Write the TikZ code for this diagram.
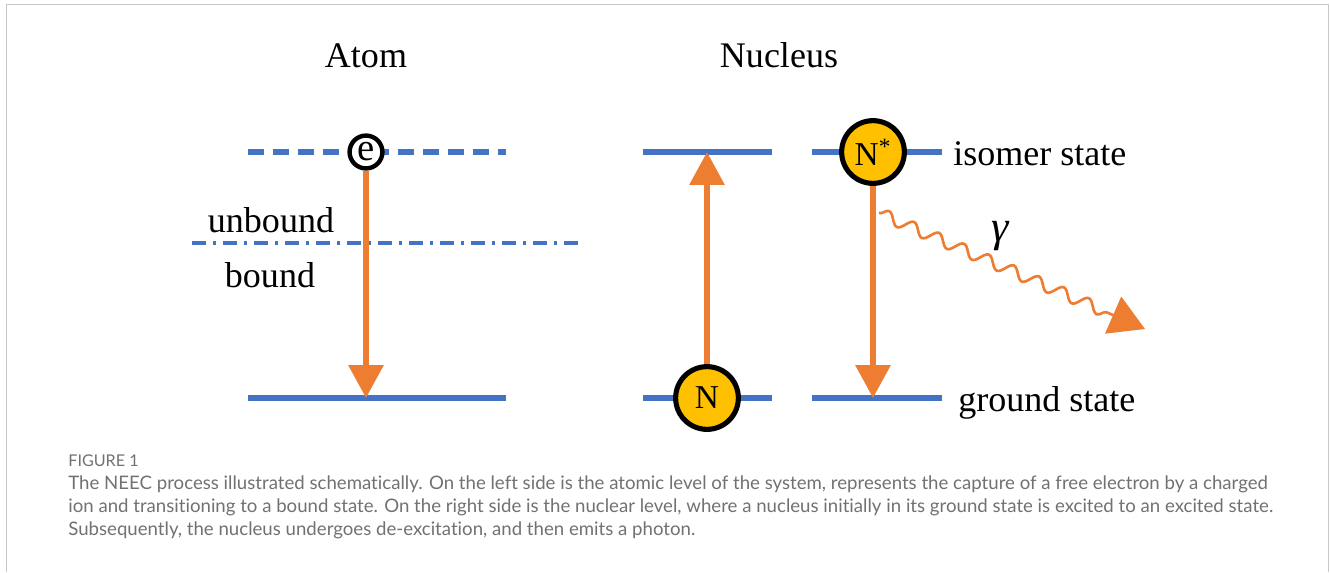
\documentclass[tikz,border=0pt]{standalone}
\usepackage{fontspec}
\setmainfont{Liberation Serif}
\newfontfamily\capfont[Ligatures=NoCommon]{Lato}
\usetikzlibrary{arrows.meta,decorations.pathmorphing}
\definecolor{lvlblue}{HTML}{4472C4}
\definecolor{trorange}{HTML}{ED7D31}
\definecolor{nucyellow}{HTML}{FFC000}
\definecolor{capgray}{HTML}{707173}

\begin{document}
\begin{tikzpicture}[x=0.02cm, y=-0.02cm, font=\fontsize{20.5}{24}\selectfont,
  lvl/.style={draw=lvlblue, line width=3.1pt},
  tr/.style={draw=trorange, line width=3.5pt, -{Triangle[length=18.7pt, width=19.3pt]}},
  nuc/.style={circle, draw, line width=2.9pt, fill=nucyellow, minimum size=35.7pt, inner sep=0pt, font=\fontsize{19}{22}\selectfont},
  lbl/.style={anchor=base},
  captxt/.style={anchor=base west, inner sep=0pt, font=\capfont\fontsize{10.6}{13}\selectfont, text=capgray}]
  \useasboundingbox (0,0) rectangle (1330,572);
  \draw[black!22, line width=0.6pt] (6.5,572) -- (6.5,4.5) -- (1328.5,4.5) -- (1328.5,572);
  % titles
  \node[lbl] (atom) at (366,67) {Atom};
  \node[lbl] (nucl) at (779,67) {Nucleus};
  % atomic levels
  \coordinate (fa) at (248,152); \coordinate (fb) at (506,152);
  \coordinate (ba) at (248,398); \coordinate (bb) at (506,398);
  \coordinate (ka) at (192,243); \coordinate (kb) at (578,243);
  \coordinate (etip) at (366,398);
  \draw[lvl, dash pattern=on 0.33cm off 0.17cm] (fa) -- (fb);
  \draw[lvl] (ba) -- (bb);
  \draw[draw=lvlblue, line width=2pt, dash pattern=on 0.28cm off 0.14cm on 0.06cm off 0.14cm] (ka) -- (kb);
  \node[lbl] (unb) at (271,232) {unbound};
  \node[lbl] (bnd) at (270,287) {bound};
  \node[circle, draw, fill=white, line width=2.5pt, minimum size=18.7pt, inner sep=0pt,
    font=\fontsize{22}{24}\selectfont] (e) at (366,152) {e};
  \draw[tr] (e) -- (etip);
  % nuclear levels, excitation
  \coordinate (xa) at (643,152); \coordinate (xb) at (772,152);
  \coordinate (ga) at (643,398); \coordinate (gb) at (772,398);
  \coordinate (xtip) at (707,152);
  \draw[lvl] (xa) -- (xb);
  \draw[lvl] (ga) -- (gb);
  \node[nuc] (n) at (707,398) {N};
  \draw[tr] (n) -- (xtip);
  % nuclear levels, decay
  \coordinate (ia) at (812,152); \coordinate (ib) at (942,152);
  \coordinate (oa) at (812,398); \coordinate (ob) at (942,398);
  \coordinate (otip) at (873,398);
  \draw[lvl] (ia) -- (ib);
  \draw[lvl] (oa) -- (ob);
  \node[nuc] (ns) at (873,152) {N\textsuperscript{*}};
  \draw[tr] (ns) -- (otip);
  \node[anchor=base west, inner sep=0pt] (iso) at (953,165) {isomer state};
  \node[anchor=base west, inner sep=0pt] (gnd) at (958,411) {ground state};
  % photon
  \coordinate (ps) at (879,213); \coordinate (pe) at (1145,329);
  \draw[trorange, line width=1.5pt, decorate,
    decoration={snake, amplitude=3.3pt, segment length=15.5pt, post length=21pt},
    -{Triangle[length=19.8pt, width=22.7pt]}] (ps) -- (pe);
  \node[font=\fontsize{25}{28}\selectfont\itshape] (gam) at (1000,236) {γ};
  % caption
  \node[captxt, font=\capfont\fontsize{9.2}{11}\selectfont] (fig) at (68,466) {FIGURE 1};
  \node[captxt] (c1) at (68,489) {The NEEC process illustrated schematically. On the left side is the atomic level of the system, represents the capture of a free electron by a charged};
  \node[captxt] (c2) at (68,512) {ion and transitioning to a bound state. On the right side is the nuclear level, where a nucleus initially in its ground state is excited to an excited state.};
  \node[captxt] (c3) at (68,535) {Subsequently, the nucleus undergoes de-excitation, and then emits a photon.};
\end{tikzpicture}
\end{document}
